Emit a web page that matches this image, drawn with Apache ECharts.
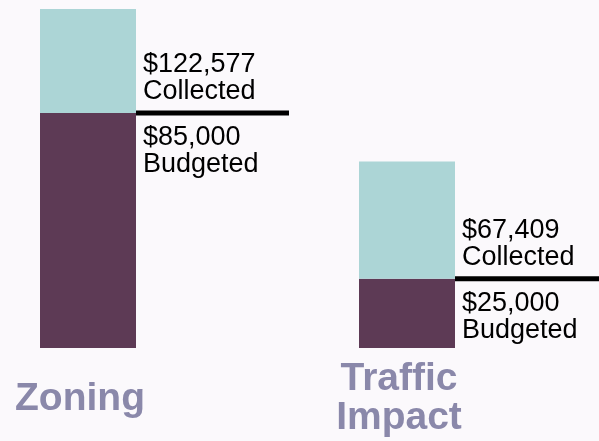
<!DOCTYPE html>
<html>
<head>
<meta charset="utf-8">
<script src="https://cdn.jsdelivr.net/npm/echarts@6/dist/echarts.min.js"></script>
<style>
  html, body { margin: 0; padding: 0; background: #fbf9fc; }
  #chart { width: 599px; height: 441px; }
</style>
</head>
<body>
<div id="chart"></div>
<script>
const categories = ['Zoning', 'Traffic\nImpact']
const budgeted = [85000, 25000]
const collected = [122577, 67409]
const overBudget = collected.map((c, i) => c - budgeted[i])

const BAR_WIDTH = 96
const LINE_LEN = 153

const fmt = v => '$' + v.toLocaleString('en-US')

const chart = echarts.init(document.getElementById('chart'))

const labelFont = {
  fontFamily: 'Liberation Sans, Arial, Helvetica, sans-serif',
  fontSize: 27,
  lineHeight: 27,
  color: '#000'
}

const option = {
  backgroundColor: '#fbf9fc',
  animation: false,
  grid: {
    left: 88,
    right: 192,
    top: 9,
    bottom: 93
  },
  xAxis: {
    type: 'category',
    data: categories,
    boundaryGap: false,
    axisLine: { show: false },
    axisTick: { show: false },
    axisLabel: {
      interval: 0,
      margin: 51,
      verticalAlign: 'middle',
      padding: [0, 16, 0, 0],
      fontFamily: 'Liberation Sans, Arial, Helvetica, sans-serif',
      fontWeight: 'bold',
      fontSize: 39,
      lineHeight: 39,
      color: '#8a88aa'
    }
  },
  yAxis: {
    type: 'value',
    min: 0,
    max: collected[0],
    show: false
  },
  series: [
    {
      name: 'Budgeted',
      type: 'bar',
      stack: 'total',
      barWidth: BAR_WIDTH,
      data: budgeted,
      itemStyle: { color: '#5d3a55' },
      label: {
        show: true,
        position: ['100%', 0],
        offset: [7, 11],
        align: 'left',
        verticalAlign: 'top',
        formatter: p => fmt(budgeted[p.dataIndex]) + '\nBudgeted',
        ...labelFont
      }
    },
    {
      name: 'Collected',
      type: 'bar',
      stack: 'total',
      barWidth: BAR_WIDTH,
      data: overBudget,
      itemStyle: { color: '#acd5d6' },
      label: {
        show: true,
        position: ['100%', '100%'],
        offset: [7, -8],
        align: 'left',
        verticalAlign: 'bottom',
        formatter: p => fmt(collected[p.dataIndex]) + '\nCollected',
        ...labelFont
      }
    },
    {
      name: 'Budget line',
      type: 'custom',
      z: 5,
      data: budgeted.map((v, i) => [i, v]),
      renderItem: (params, api) => {
        const pt = api.coord([api.value(0), api.value(1)])
        const x0 = pt[0] + BAR_WIDTH / 2
        return {
          type: 'line',
          shape: { x1: x0, y1: pt[1], x2: x0 + LINE_LEN, y2: pt[1] },
          style: { stroke: '#000', lineWidth: 5 }
        }
      }
    }
  ]
}

chart.setOption(option)
</script>
</body>
</html>
